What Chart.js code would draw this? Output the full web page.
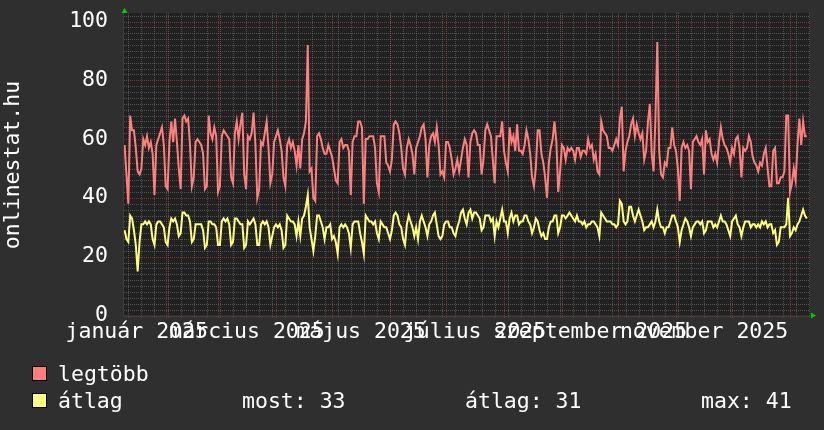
<!DOCTYPE html>
<html>
<head>
<meta charset="utf-8">
<script src="https://cdn.jsdelivr.net/npm/chart.js@4.4.0/dist/chart.umd.min.js"></script>
<style>
  html, body { margin: 0; padding: 0; background: #2f2f2f; }
  #wrap { width: 824px; height: 430px; }
</style>
</head>
<body>
<div id="wrap"><canvas id="chart" width="824" height="430"></canvas></div>
<script>
// napi értékek, 2025-01-10-től (nap index 2025-01-01 = 0)
const firstDay = 9;

const legtobb = [
  58, 48, 38, 68, 63, 63, 57, 49, 48, 50,
  60, 58, 61, 57, 59, 55, 41, 58, 60, 62,
  64, 58, 44, 43, 59, 66, 59, 67, 59, 50,
  43, 67, 68, 66, 67, 58, 44, 47, 59, 60,
  59, 58, 55, 43, 44, 68, 62, 60, 64, 61,
  42, 44, 61, 63, 62, 61, 60, 47, 45, 62,
  66, 60, 65, 69, 48, 43, 61, 60, 62, 69,
  58, 40, 43, 59, 58, 62, 66, 57, 45, 48,
  59, 61, 63, 60, 56, 47, 44, 58, 60, 57,
  59, 56,
  51, 58, 50, 60, 62, 66, 92, 49, 50, 40,
  39, 61, 62, 60, 57, 55, 55, 58, 56, 54,
  50, 46, 45, 59, 60, 57, 58, 58, 56, 41,
  59, 61, 61, 66, 66, 64, 38, 60, 60, 61,
  61, 61, 57, 45, 42, 61, 61, 61, 52, 51,
  49, 53, 65, 66, 65, 62, 57, 50, 48, 57,
  60, 58, 55, 48, 57, 59, 61, 64, 65, 60,
  47, 58, 61, 62, 59, 64, 58, 48, 49, 47,
  59, 59, 57, 53, 48, 50, 53, 49, 53, 57,
  60, 58,
  47, 59, 62, 63, 62, 58, 58, 48, 53, 63,
  65, 63, 61, 53, 45, 61, 61, 61, 66, 56,
  52, 49, 64, 59, 61, 56, 65, 56, 56, 55,
  58, 63, 60, 55, 47, 44, 50, 63, 63, 55,
  52, 47, 40, 52, 57, 60, 66, 59, 42, 49,
  58, 57, 53, 57, 56, 57, 56, 53, 57, 57,
  54, 56, 56, 55, 60, 57, 58, 53, 55, 49,
  48, 66, 63, 62, 61, 57, 57, 56, 58, 60,
  58, 67, 71, 49, 56, 59, 61, 65, 67, 61,
  65, 62, 60,
  62, 53, 56, 66, 72, 55, 49, 67, 93, 56,
  48, 47, 52, 51, 57, 57, 64, 58, 56, 50,
  39, 57, 59, 57, 58, 56, 43, 59, 60, 61,
  59, 58, 60, 48, 63, 59, 60, 55, 53, 55,
  52, 59, 64, 60, 58, 57, 55, 52, 57, 55,
  60, 61, 57, 47, 57, 56, 57, 61, 59, 54,
  52, 51, 49, 52, 51, 55, 57, 50, 44, 44,
  56, 57, 45, 45, 47, 47, 49, 68, 68, 42,
  45, 50, 46, 58, 67, 58, 66, 61, 61
];

const atlag = [
  29, 26, 25, 34, 33, 29, 24, 15, 25, 31,
  31, 32, 31, 32, 31, 26, 24, 31, 32, 32,
  31, 30, 25, 24, 30, 33, 32, 33, 31, 27,
  28, 35, 35, 34, 34, 32, 25, 26, 31, 31,
  31, 31, 29, 23, 24, 32, 32, 31, 31, 30,
  24, 24, 32, 33, 32, 33, 31, 24, 25, 33,
  33, 32, 31, 31, 23, 24, 32, 31, 32, 33,
  31, 24, 24, 31, 32, 31, 32, 30, 24, 27,
  30, 31, 30, 31, 29, 23, 24, 34, 33, 32,
  32, 31,
  27, 32, 27, 33, 34, 37, 41, 30, 26, 22,
  27, 34, 34, 32, 30, 26, 30, 30, 31, 26,
  27, 25, 21, 30, 31, 30, 31, 30, 28, 23,
  31, 32, 32, 32, 28, 25, 21, 34, 33, 32,
  32, 31, 32, 28, 26, 32, 31, 30, 30, 28,
  26, 29, 34, 35, 34, 31, 30, 26, 24, 31,
  34, 32, 30, 27, 30, 26, 32, 34, 32, 30,
  27, 31, 32, 34, 35, 31, 27, 26, 27, 31,
  32, 32, 30, 30, 28, 27, 30, 32, 35, 36,
  33, 31,
  35, 36, 33, 35, 35, 34, 33, 29, 30, 34,
  34, 34, 32, 33, 27, 32, 30, 33, 36, 32,
  32, 28, 33, 35, 32, 34, 34, 31, 32, 32,
  34, 34, 32, 31, 28, 30, 33, 32, 29, 27,
  28, 26, 26, 30, 32, 32, 34, 34, 28, 30,
  34, 34, 33, 34, 35, 34, 33, 32, 34, 32,
  32, 31, 32, 30, 31, 31, 32, 32, 31, 30,
  27, 35, 34, 33, 32, 32, 32, 31, 31, 30,
  31, 39, 38, 32, 31, 32, 37, 37, 34, 32,
  34, 36, 34,
  32, 29, 30, 30, 31, 32, 30, 32, 36, 32,
  30, 30, 28, 30, 30, 32, 34, 34, 32, 30,
  25, 29, 31, 33, 32, 30, 27, 30, 31, 32,
  32, 31, 32, 28, 29, 32, 32, 32, 30, 31,
  30, 32, 34, 32, 32, 31, 29, 27, 32, 33,
  34, 31, 30, 27, 30, 32, 32, 32, 30, 31,
  31, 30, 31, 30, 32, 31, 32, 30, 31, 31,
  28, 29, 24, 25, 30, 30, 30, 31, 40, 27,
  28, 30, 29, 31, 32, 34, 36, 34, 33
];

// tengelyek
const axisStart = 8.69;
const axisEnd = 375.69;
const monthStarts = [0, 31, 59, 90, 120, 151, 181, 212, 243, 273, 304, 334, 365];
const monthLabels = ['január 2025', 'március 2025', 'május 2025', 'július 2025', 'szeptember 2025', 'november 2025'];
const labelMonths = [0, 2, 4, 6, 8, 10];
const yTicks = [0, 20, 40, 60, 80, 100];
const yMax = 102.9;

const seriesNames = ['legtöbb', 'átlag'];
const seriesColors = ['#ff7f7f', '#ffff7f'];
const statsLabels = ['most: 33', 'átlag: 31', 'max: 41'];
const yTitle = 'onlinestat.hu';

const FONT = "'DejaVu Sans Mono', monospace";

const labelPositions = labelMonths.map(m => (monthStarts[m] + monthStarts[m + 1]) / 2);

function toPoints(values) {
  return values.map((v, i) => ({ x: firstDay + i, y: v }));
}

// háttér + rács, rrdtool stílusban
const gridPlugin = {
  id: 'rrdGrid',
  beforeDraw(chart) {
    const ctx = chart.ctx;
    const a = chart.chartArea;
    const xs = chart.scales.x;
    const ys = chart.scales.y;
    ctx.save();
    ctx.fillStyle = '#2f2f2f';
    ctx.fillRect(0, 0, chart.width, chart.height);
    ctx.fillStyle = '#212121';
    ctx.fillRect(a.left, a.top, a.right - a.left, a.bottom - a.top);

    ctx.lineWidth = 1;
    ctx.setLineDash([1, 1]);
    const minor = 'rgba(150, 150, 150, 0.42)';
    const major = 'rgba(210, 80, 80, 0.5)';

    // vízszintes segédvonalak
    ctx.strokeStyle = minor;
    for (let v = 2; v <= yMax; v += 2) {
      if (v % 20 === 0) continue;
      const y = Math.round(ys.getPixelForValue(v)) + 0.5;
      ctx.beginPath();
      ctx.moveTo(a.left, y);
      ctx.lineTo(a.right, y);
      ctx.stroke();
    }
    // heti függőleges vonalak (vasárnap)
    for (let d = 4; d < axisEnd; d += 7) {
      if (d <= axisStart) continue;
      const x = Math.round(xs.getPixelForValue(d)) + 0.5;
      ctx.beginPath();
      ctx.moveTo(x, a.top);
      ctx.lineTo(x, a.bottom + 2);
      ctx.stroke();
    }
    // fő vonalak
    ctx.strokeStyle = major;
    yTicks.forEach(v => {
      const y = Math.round(ys.getPixelForValue(v)) + 0.5;
      ctx.beginPath();
      ctx.moveTo(a.left, y);
      ctx.lineTo(a.right, y);
      ctx.stroke();
    });
    monthStarts.forEach(d => {
      if (d <= axisStart || d >= axisEnd) return;
      const x = Math.round(xs.getPixelForValue(d)) + 0.5;
      ctx.beginPath();
      ctx.moveTo(x, a.top);
      ctx.lineTo(x, a.bottom + 3);
      ctx.stroke();
    });

    // tengelyvonalak
    ctx.setLineDash([]);
    ctx.strokeStyle = '#3c3c3c';
    ctx.beginPath();
    ctx.moveTo(a.left - 0.5, a.top - 3);
    ctx.lineTo(a.left - 0.5, a.bottom + 0.5);
    ctx.lineTo(a.right + 3, a.bottom + 0.5);
    ctx.stroke();
    ctx.restore();
  },
  afterDraw(chart) {
    const ctx = chart.ctx;
    const a = chart.chartArea;
    ctx.save();

    // zöld nyilak
    ctx.fillStyle = '#00cc00';
    ctx.beginPath();
    ctx.moveTo(a.left + 0.5, a.top - 5);
    ctx.lineTo(a.left - 2.5, a.top);
    ctx.lineTo(a.left + 3.5, a.top);
    ctx.closePath();
    ctx.fill();
    ctx.beginPath();
    ctx.moveTo(a.right + 6, a.bottom);
    ctx.lineTo(a.right + 1, a.bottom - 3);
    ctx.lineTo(a.right + 1, a.bottom + 3);
    ctx.closePath();
    ctx.fill();

    // függőleges cím
    ctx.fillStyle = '#ffffff';
    ctx.font = '21.5px ' + FONT;
    ctx.textAlign = 'center';
    ctx.textBaseline = 'alphabetic';
    ctx.translate(18.5, 165);
    ctx.rotate(-Math.PI / 2);
    ctx.fillText(yTitle, 0, 0);
    ctx.restore();

    // jelmagyarázat
    ctx.save();
    ctx.font = '21.5px ' + FONT;
    ctx.textAlign = 'left';
    ctx.textBaseline = 'alphabetic';
    const rows = [381, 408];
    seriesNames.forEach((name, i) => {
      const base = rows[i];
      ctx.fillStyle = seriesColors[i];
      ctx.fillRect(32, base - 15, 15, 15);
      ctx.strokeStyle = '#000000';
      ctx.lineWidth = 1;
      ctx.strokeRect(32.5, base - 14.5, 14, 14);
      ctx.fillStyle = '#ffffff';
      ctx.fillText(name, 58, base);
    });
    const statX = [242, 465, 701];
    statsLabels.forEach((s, i) => ctx.fillText(s, statX[i], rows[1]));
    ctx.restore();
  }
};

new Chart(document.getElementById('chart'), {
  type: 'line',
  data: {
    datasets: [
      {
        label: seriesNames[0],
        data: toPoints(legtobb),
        borderColor: seriesColors[0],
        borderWidth: 2,
        pointRadius: 0,
        tension: 0
      },
      {
        label: seriesNames[1],
        data: toPoints(atlag),
        borderColor: seriesColors[1],
        borderWidth: 2,
        pointRadius: 0,
        tension: 0
      }
    ]
  },
  options: {
    responsive: false,
    devicePixelRatio: 1,
    animation: false,
    layout: { padding: { left: 0, right: 14, top: 13, bottom: 74.5 } },
    plugins: {
      legend: { display: false },
      tooltip: { enabled: false }
    },
    scales: {
      x: {
        type: 'linear',
        min: axisStart,
        max: axisEnd,
        grid: { display: false, drawTicks: false },
        border: { display: false },
        afterBuildTicks: function (scale) {
          scale.ticks = labelPositions.map(v => ({ value: v }));
        },
        afterFit: function (scale) {
          scale.height = 40;
          scale.paddingLeft = 0;
          scale.paddingRight = 0;
        },
        ticks: {
          autoSkip: false,
          maxRotation: 0,
          minRotation: 0,
          padding: 4,
          color: '#ffffff',
          font: { family: FONT, size: 21.5 },
          callback: function (value, index) {
            return monthLabels[index];
          }
        }
      },
      y: {
        type: 'linear',
        min: 0,
        max: yMax,
        grid: { display: false, drawTicks: false },
        border: { display: false },
        afterBuildTicks: function (scale) {
          scale.ticks = yTicks.map(v => ({ value: v }));
        },
        afterFit: function (scale) {
          scale.width = 124;
          scale.paddingTop = 0;
          scale.paddingBottom = 0;
        },
        ticks: {
          padding: 16,
          color: '#ffffff',
          font: { family: FONT, size: 21.5 }
        }
      }
    }
  },
  plugins: [gridPlugin]
});
</script>
</body>
</html>
